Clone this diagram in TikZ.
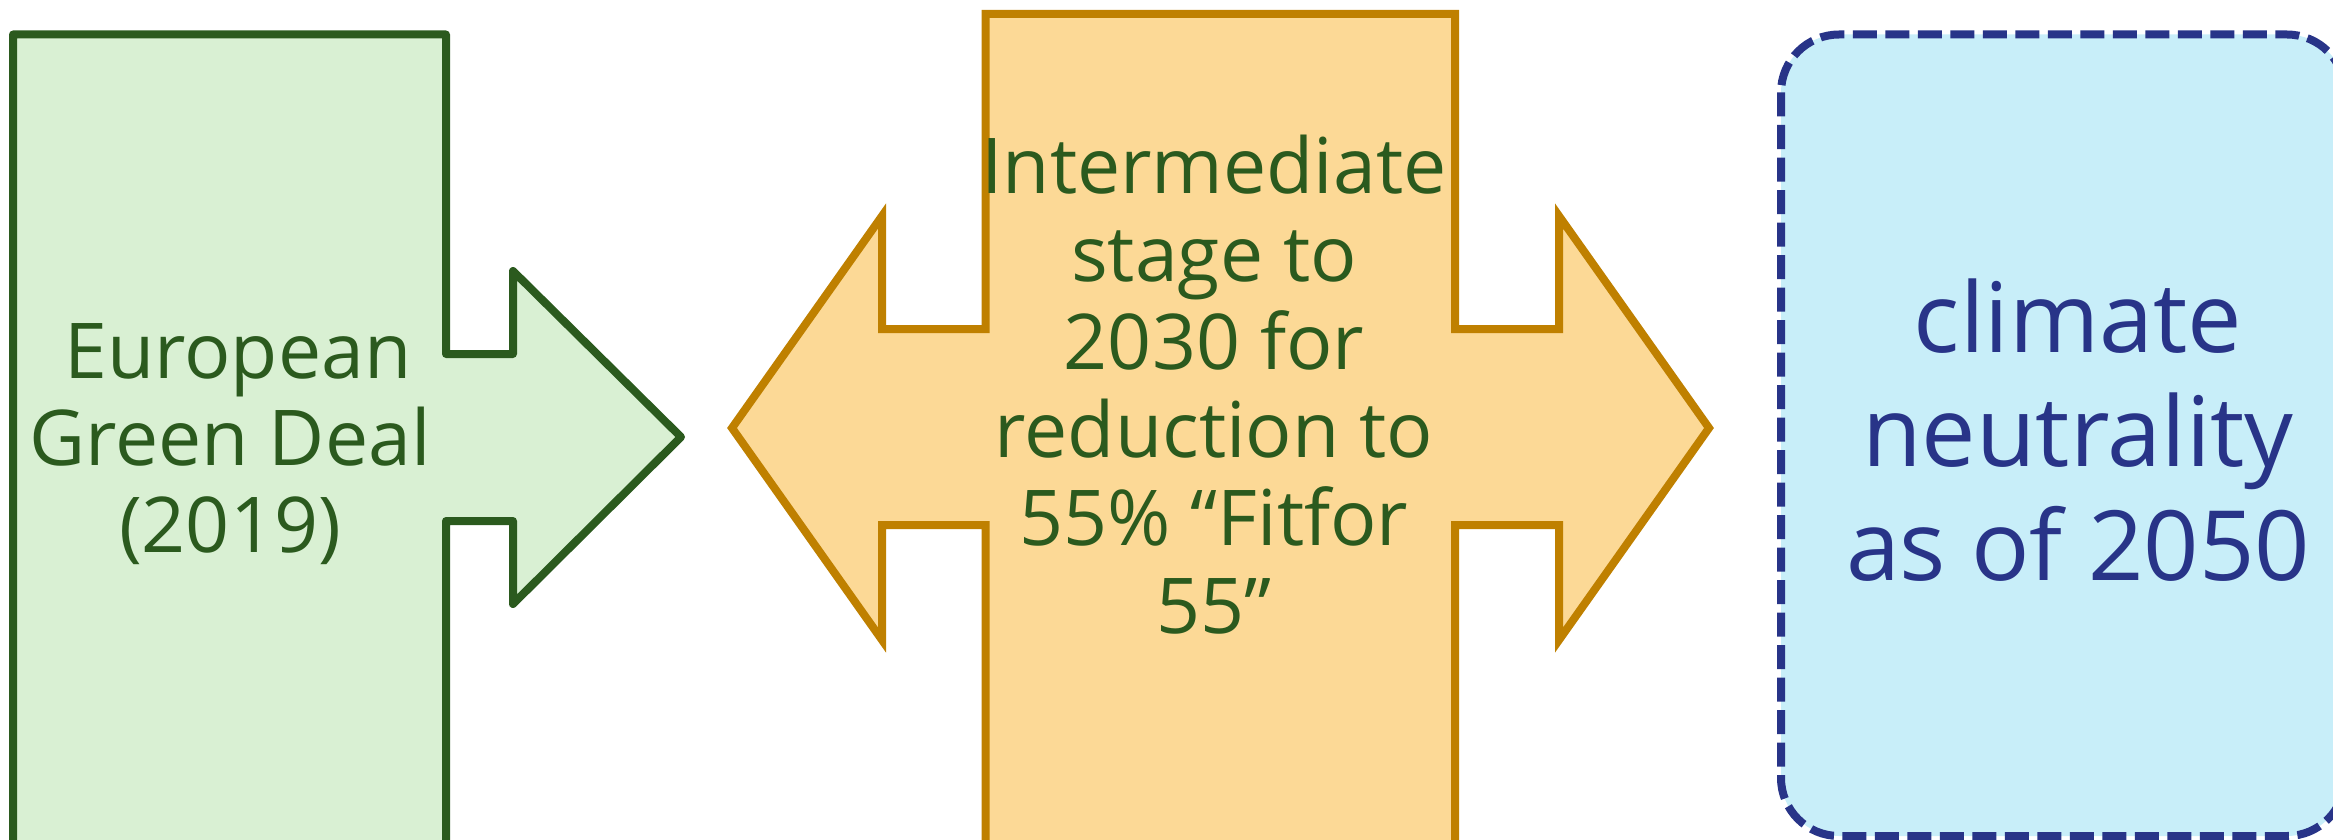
\documentclass[tikz,border=0pt]{standalone}
\usepackage{fontspec}
\setmainfont{Open Sans}
\definecolor{lgfill}{HTML}{D9F0D3}
\definecolor{lgline}{HTML}{2B5A1E}
\definecolor{orfill}{HTML}{FCD996}
\definecolor{orline}{HTML}{BF8000}
\definecolor{blfill}{HTML}{C8EEF9}
\definecolor{blline}{HTML}{283488}
\tikzset{
  greenshape/.style={fill=lgfill,draw=lgline,line width=8pt,line join=round},
  orangeshape/.style={fill=orfill,draw=orline,line width=8pt,line join=miter},
  blueshape/.style={fill=blfill,draw=blline,line width=8pt,dash pattern=on 24pt off 8.5pt,rounded corners=58pt},
  lbl/.style={align=center,inner sep=0pt,outer sep=0pt}
}
\begin{document}
\begin{tikzpicture}[x=1pt,y=-1pt]
\useasboundingbox (0,0) rectangle (2333,840);
\clip (0,0) rectangle (2333,840);
% left arrow shape
\draw[greenshape] (13,34.5) -- (446,34.5) -- (446,354) -- (513,354) -- (513,271) -- (681,437)
  -- (513,604) -- (513,521) -- (446,521) -- (446,880) -- (13,880) -- cycle;
% middle double arrow shape
\draw[orangeshape] (985.5,14) -- (1455,14) -- (1455,329) -- (1559,329) -- (1559,216) -- (1709,428)
  -- (1559,640) -- (1559,525) -- (1455,525) -- (1455,880) -- (985.5,880) -- (985.5,525)
  -- (882,525) -- (882,640) -- (732,428) -- (882,216) -- (882,329) -- (985.5,329) -- cycle;
% right dashed box
\draw[blueshape] (1781,34.5) rectangle (2345,836);
% texts
\node[lbl,text=lgline,font=\fontsize{77}{87}\selectfont] (green) at (230,444)
  {\hspace*{16pt}European\\Green Deal\\(2019)};
\node[lbl,text=lgline,font=\fontsize{77}{88}\selectfont] (mid) at (1214,385)
  {Intermediate\\stage to\\2030 for\\reduction to\\55\% “Fitfor\\55”};
\node[lbl,text=blline,font=\fontsize{97}{114}\selectfont] (blue) at (2078,430)
  {climate\\neutrality\\as of 2050};
\end{tikzpicture}
\end{document}
